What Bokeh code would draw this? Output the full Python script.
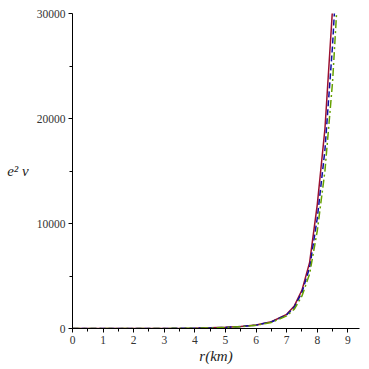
from bokeh.plotting import figure
from bokeh.models import FixedTicker, Range1d
from bokeh.embed import file_html
from bokeh.resources import INLINE

r = [0, 1, 2, 3, 4, 4.5, 5, 5.5, 6, 6.5, 7, 7.25, 7.5, 7.75, 8, 8.25, 8.5, 8.75]
red = [0.5, 1, 3, 8, 30, 60, 110, 190, 330, 640, 1350, 2150, 3650, 6300, 11800, 19000, 30500, 45000]
blue = [0.5, 1, 3, 8, 29, 58, 106, 185, 320, 620, 1300, 2050, 3450, 5800, 10500, 17000, 27000, 40000]
green = [0.5, 1, 3, 7, 27, 55, 100, 175, 300, 580, 1200, 1850, 3100, 5200, 9300, 15000, 23500, 36000]

x_ticks = [0, 1, 2, 3, 4, 5, 6, 7, 8, 9]
x_minor = [0.5, 1.5, 2.5, 3.5, 4.5, 5.5, 6.5, 7.5, 8.5, 9.5]
y_ticks = [0, 10000, 20000, 30000]
y_minor = [5000, 15000, 25000]

p = figure(width=369, height=369, output_backend="svg", toolbar_location=None,
           x_range=Range1d(0, 9.38), y_range=Range1d(0, 30000),
           min_border_left=72, min_border_right=10, min_border_top=13, min_border_bottom=41)
p.outline_line_color = None
p.xgrid.visible = False
p.ygrid.visible = False

p.line(r, red, line_color="#9B1030", line_width=1.5)
p.line(r, blue, line_color="#1010A0", line_width=1.5, line_dash="6 3")
p.line(r, green, line_color="#66A000", line_width=1.5, line_dash="8 3 2 3")

for ax in (p.xaxis[0], p.yaxis[0]):
    ax.axis_line_color = "black"
    ax.major_tick_line_color = "black"
    ax.minor_tick_line_color = "black"
    ax.major_tick_out = 4
    ax.major_tick_in = 0
    ax.minor_tick_out = 3
    ax.minor_tick_in = 0
    ax.major_label_text_font = "Liberation Serif"
    ax.major_label_text_font_size = "11.5px"
    ax.major_label_text_color = "#333333"
    ax.axis_label_text_font = "Liberation Serif"
    ax.axis_label_text_font_style = "italic"
    ax.axis_label_text_font_size = "15px"
    ax.axis_label_text_color = "#222222"

p.xaxis[0].ticker = FixedTicker(ticks=x_ticks, minor_ticks=x_minor)
p.yaxis[0].ticker = FixedTicker(ticks=y_ticks, minor_ticks=y_minor)
p.xaxis[0].major_label_standoff = 3
p.yaxis[0].major_label_standoff = 3
p.xaxis[0].axis_label = "r(km)"
p.xaxis[0].axis_label_standoff = 1
p.yaxis[0].axis_label = "e² ν"
p.yaxis[0].axis_label_orientation = "horizontal"
p.yaxis[0].axis_label_standoff = 5

open("out.html", "w").write(file_html(p, INLINE))
